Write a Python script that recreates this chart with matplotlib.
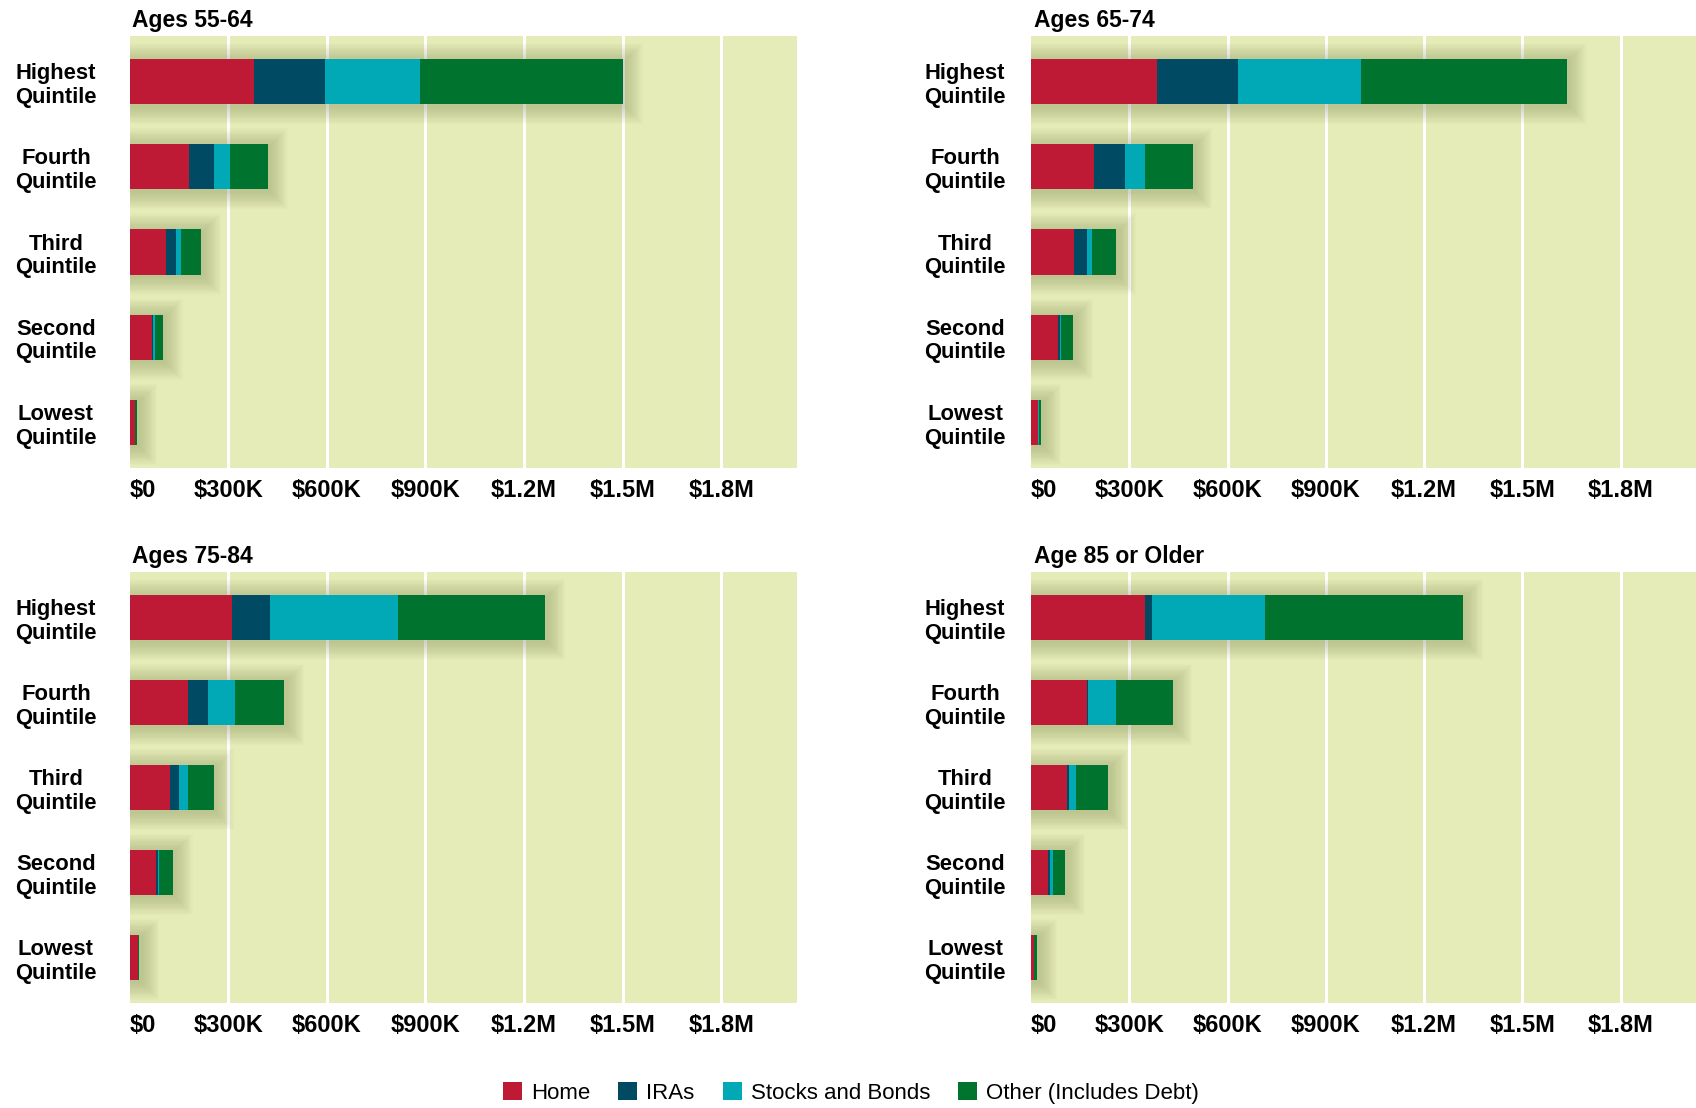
import matplotlib.pyplot as plt
from matplotlib.patches import Patch

plt.rcParams['font.family'] = ['Liberation Sans', 'DejaVu Sans']

# ---- data (thousands of dollars), order: Highest -> Lowest ----
quintiles = ['Highest\nQuintile', 'Fourth\nQuintile', 'Third\nQuintile',
             'Second\nQuintile', 'Lowest\nQuintile']
categories = ['Home', 'IRAs', 'Stocks and Bonds', 'Other (Includes Debt)']
colors = ['#be1a36', '#004a63', '#00a9b5', '#00742f']

titles = ['Ages 55-64', 'Ages 65-74', 'Ages 75-84', 'Age 85 or Older']

home_55 = [380, 181, 112, 67, 16]
iras_55 = [215, 76, 28, 5, 1]
stocks_55 = [287, 50, 16, 6, 1]
other_55 = [618, 113, 62, 23, 5]

home_65 = [385, 193, 132, 81, 20]
iras_65 = [246, 94, 39, 8, 2]
stocks_65 = [376, 60, 15, 4, 1]
other_65 = [628, 146, 74, 36, 8]

home_75 = [312, 179, 123, 80, 25]
iras_75 = [115, 60, 27, 6, 1]
stocks_75 = [389, 81, 28, 4, 1]
other_75 = [449, 151, 78, 41, 3]

home_85 = [347, 172, 109, 53, 8]
iras_85 = [23, 2, 6, 4, 1]
stocks_85 = [343, 86, 23, 10, 1]
other_85 = [606, 172, 98, 37, 9]

tick_vals = [0, 300, 600, 900, 1200, 1500, 1800]
tick_labels = ['$0', '$300K', '$600K', '$900K', '$1.2M', '$1.5M', '$1.8M']

panels = [
    (home_55, iras_55, stocks_55, other_55),
    (home_65, iras_65, stocks_65, other_65),
    (home_75, iras_75, stocks_75, other_75),
    (home_85, iras_85, stocks_85, other_85),
]

# ---- layout in pixels ----
W, H = 1696, 1108
boxes = [(129.5, 797, 36, 468), (1031, 1696, 36, 468),
         (129.5, 797, 572, 1003), (1031, 1696, 572, 1003)]
label_pads = [53, 47.5, 53, 47.5]

BG = '#e5ecb8'
XMAX = 2030
BAR_H = 0.53

fig = plt.figure(figsize=(W / 100, H / 100), dpi=100)

for i, (vals, box) in enumerate(zip(panels, boxes)):
    l, r, t, b = box
    ax = fig.add_axes([l / W, 1 - b / H, (r - l) / W, (b - t) / H])
    ax.set_facecolor(BG)
    for s in ax.spines.values():
        s.set_visible(False)

    ypos = list(range(len(quintiles)))

    # white gridlines
    for xv in tick_vals[1:]:
        ax.axvline(xv, color='white', lw=2.2, zorder=1)

    # soft shadow behind bars (stacked translucent layers)
    totals = [sum(v) for v in zip(*vals)]
    xpx = 300 / 98.5
    ypx = 1 / 85
    for k in range(1, 16):
        e = k * 1.2
        ax.barh([y + 2 * ypx for y in ypos], [tt + 2 * e * xpx for tt in totals],
                left=-e * xpx + 2 * xpx, height=BAR_H + 2 * e * ypx,
                color='#4a5520', alpha=0.016, lw=0, zorder=2)

    left = [0] * len(quintiles)
    for ser, col in zip(vals, colors):
        ax.barh(ypos, ser, left=left, height=BAR_H, color=col, lw=0, zorder=3)
        left = [a + c for a, c in zip(left, ser)]

    ax.set_xlim(0, XMAX)
    ax.set_ylim(len(quintiles) - 1 + 0.535, -0.535)

    ax.set_xticks(tick_vals)
    ax.set_xticklabels(tick_labels, fontsize=17, fontweight='bold')
    ax.get_xticklabels()[0].set_horizontalalignment('left')
    ax.tick_params(axis='x', length=0, pad=8)

    ax.set_yticks(ypos)
    ax.set_yticklabels(quintiles, fontsize=15.8, fontweight='bold',
                       ha='center', linespacing=1.17)
    ax.tick_params(axis='y', length=0, pad=label_pads[i])

    ax.set_title(titles[i], loc='left', fontsize=16.5, fontweight='bold', pad=6.5, x=0.004)

handles = [Patch(facecolor=c, edgecolor='none') for c in colors]
fig.legend(handles, categories, loc='center', bbox_to_anchor=(851 / W, 1 - 1093 / H),
           ncol=4, frameon=False, fontsize=16, handlelength=0.86, handleheight=0.86,
           handletextpad=0.4, columnspacing=1.26, borderaxespad=0)

fig.savefig('out.png', dpi=100, facecolor='white')
